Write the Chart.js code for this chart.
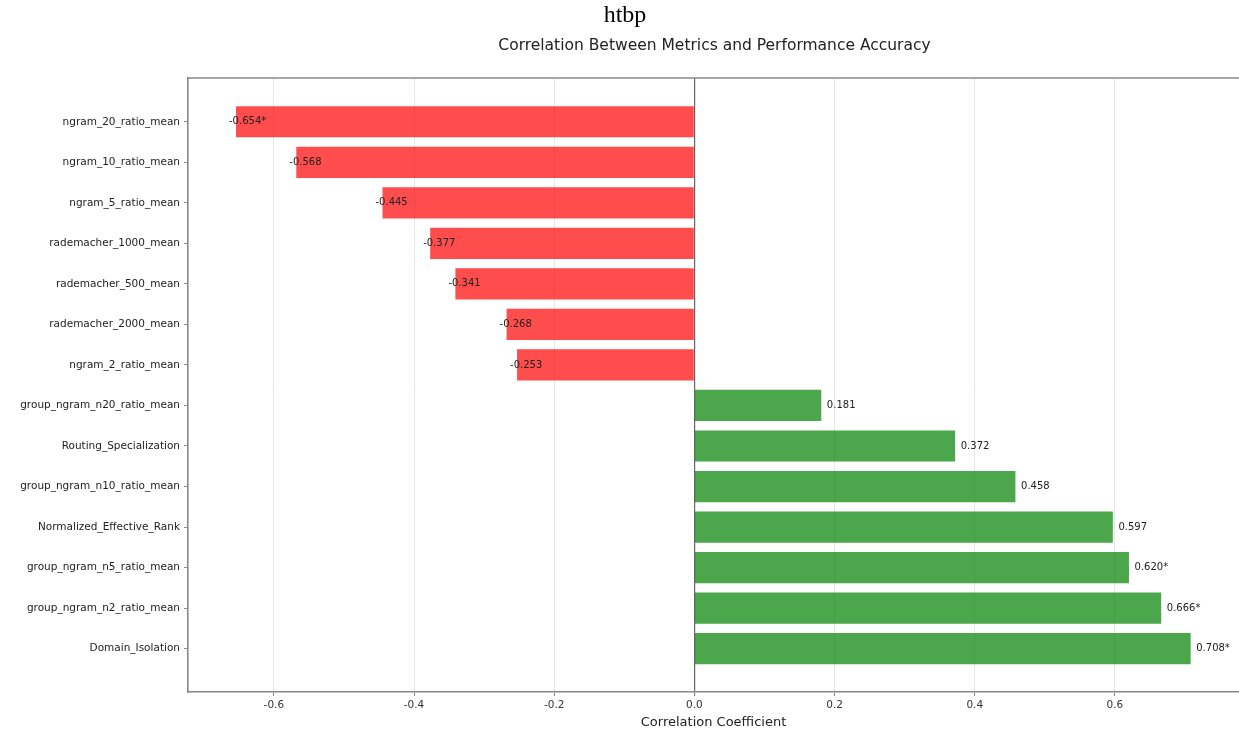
<!DOCTYPE html>
<html>
<head>
<meta charset="utf-8">
<script src="https://cdn.jsdelivr.net/npm/chart.js@4.4.1/dist/chart.umd.min.js"></script>
<style>
  html, body { margin: 0; padding: 0; background: #fff; overflow: hidden; }
  #wrap { position: relative; width: 1239px; height: 736px; }
  #c { position: absolute; left: 0; top: 0; }
  #htbp { position: absolute; left: 0; width: 1250px; top: 1px; text-align: center;
          font-family: "Liberation Serif", "DejaVu Serif", serif; font-size: 24px; color: #000; }
</style>
</head>
<body>
<div id="wrap">
  <canvas id="c" width="1239" height="736"></canvas>
  <div id="htbp">htbp</div>
</div>
<script>
const categories = [
  "ngram_20_ratio_mean",
  "ngram_10_ratio_mean",
  "ngram_5_ratio_mean",
  "rademacher_1000_mean",
  "rademacher_500_mean",
  "rademacher_2000_mean",
  "ngram_2_ratio_mean",
  "group_ngram_n20_ratio_mean",
  "Routing_Specialization",
  "group_ngram_n10_ratio_mean",
  "Normalized_Effective_Rank",
  "group_ngram_n5_ratio_mean",
  "group_ngram_n2_ratio_mean",
  "Domain_Isolation"
];
const correlations = [-0.654, -0.568, -0.445, -0.377, -0.341, -0.268, -0.253,
                      0.181, 0.372, 0.458, 0.597, 0.620, 0.666, 0.708];
const significant = [true, false, false, false, false, false, false,
                     false, false, false, false, true, true, true];
const xTicks = [-0.6, -0.4, -0.2, 0.0, 0.2, 0.4, 0.6];
const chartTitle = "Correlation Between Metrics and Performance Accuracy";
const xTitle = "Correlation Coefficient";

const FONT = "'DejaVu Sans', 'Liberation Sans', sans-serif";

const barColors = correlations.map(v => v < 0 ? 'rgba(255,0,0,0.7)' : 'rgba(0,128,0,0.7)');

const extrasPlugin = {
  id: 'extras',
  afterDatasetsDraw(chart) {
    const ctx = chart.ctx;
    const xs = chart.scales.x, ys = chart.scales.y;
    ctx.save();
    ctx.font = "10px " + FONT;
    ctx.fillStyle = '#222';
    ctx.textAlign = 'left';
    ctx.textBaseline = 'middle';
    correlations.forEach((v, i) => {
      const label = v.toFixed(3) + (significant[i] ? '*' : '');
      const x = xs.getPixelForValue(v + (v > 0 ? 0.008 : -0.01));
      const y = ys.getPixelForValue(i);
      ctx.fillText(label, x, y);
    });
    ctx.restore();
  },
  afterDraw(chart) {
    const ctx = chart.ctx;
    const a = chart.chartArea;
    ctx.save();
    ctx.strokeStyle = '#888';
    ctx.lineWidth = 1.6;
    ctx.beginPath();
    ctx.moveTo(a.left - 0.8, a.top);
    ctx.lineTo(a.right + 2, a.top);
    ctx.stroke();
    ctx.font = "15.5px " + FONT;
    ctx.fillStyle = '#222';
    ctx.textAlign = 'center';
    ctx.textBaseline = 'middle';
    ctx.fillText(chartTitle, (a.left + a.right) / 2 + 1, 46);
    ctx.restore();
  }
};

new Chart(document.getElementById('c'), {
  type: 'bar',
  data: {
    datasets: [{
      data: correlations.map((v, i) => ({ x: v, y: i })),
      backgroundColor: barColors,
      borderWidth: 0,
      barPercentage: 0.77,
      categoryPercentage: 1.0
    }]
  },
  options: {
    indexAxis: 'y',
    responsive: false,
    animation: false,
    layout: { padding: { left: 0, top: 78, right: 0, bottom: 0 } },
    plugins: {
      legend: { display: false },
      tooltip: { enabled: false },
      title: { display: false }
    },
    scales: {
      x: {
        type: 'linear',
        min: -0.7225,
        max: 0.777,
        offset: false,
        afterBuildTicks(scale) { scale.ticks = xTicks.map(v => ({ value: v })); },
        afterFit(scale) { scale.height = 44; },
        ticks: {
          font: { family: FONT, size: 10.5 },
          color: '#333',
          padding: 3,
          callback: v => v.toFixed(1)
        },
        grid: {
          offset: false,
          color: ctx => (ctx.tick && ctx.tick.value === 0) ? '#666' : '#e6e6e6',
          lineWidth: ctx => (ctx.tick && ctx.tick.value === 0) ? 1.2 : 1,
          tickColor: '#888',
          tickLength: 4
        },
        border: { color: '#888', width: 1.6 },
        title: {
          display: true,
          text: xTitle,
          font: { family: FONT, size: 13 },
          color: '#222',
          padding: { top: 0, bottom: 6 }
        }
      },
      y: {
        type: 'linear',
        reverse: true,
        offset: false,
        min: -1.08,
        max: 14.07,
        afterBuildTicks(scale) { scale.ticks = categories.map((_, i) => ({ value: i })); },
        afterFit(scale) { scale.width = 188; },
        ticks: {
          font: { family: FONT, size: 10.5 },
          color: '#222',
          padding: 4,
          callback: v => categories[v]
        },
        grid: {
          offset: false,
          drawOnChartArea: false,
          tickColor: '#888',
          tickLength: 4
        },
        border: { color: '#888', width: 1.6 }
      }
    }
  },
  plugins: [extrasPlugin]
});
</script>
</body>
</html>
